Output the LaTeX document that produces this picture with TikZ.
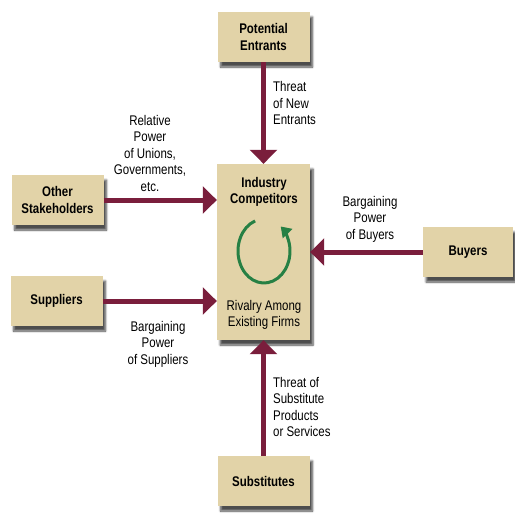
\documentclass[tikz,border=0pt]{standalone}
\usepackage{fontspec}
\setmainfont{Liberation Sans}[FakeStretch=0.82]
\usetikzlibrary{arrows.meta,shadows.blur}
\definecolor{boxtan}{RGB}{226,211,168}
\definecolor{forcered}{RGB}{122,30,60}
\definecolor{cyclegreen}{RGB}{38,128,68}

\begin{document}
\begin{tikzpicture}[x=1pt,y=-1pt,
  force node/.style={fill=boxtan,font=\fontsize{14}{16.5}\selectfont\bfseries,align=center,
    minimum width=92pt,minimum height=50pt,inner sep=0pt,
    blur shadow={shadow xshift=3pt,shadow yshift=-5pt,shadow blur steps=6,shadow opacity=70}},
  note node/.style={font=\fontsize{14}{16.5}\selectfont,inner sep=0pt},
  force/.style={draw=forcered,line width=5pt,-{Triangle[width=27pt,length=14pt]}}]

  \useasboundingbox (0,0) rectangle (515,514);

  \node[force node,minimum width=93pt,minimum height=176pt] (comp) at (263.5,252) {};
  \node[force node] (pe) at (263.5,37) {Potential\\Entrants};
  \node[force node] (os) at (57.5,200) {Other\\Stakeholders};
  \node[force node] (sup) at (56.5,301) {Suppliers};
  \node[force node,minimum width=90pt] (buy) at (468,252) {Buyers};
  \node[force node] (sub) at (263.5,481) {Substitutes};

  \node[note node,font=\fontsize{14}{16.5}\selectfont\bfseries,align=center] (comptitle) at (264,192) {Industry\\Competitors};
  \node[note node,align=center] (rivalry) at (264,315) {Rivalry Among\\Existing Firms};

  \node[note node,align=left,anchor=west] (newlbl) at (273,103) {Threat\\of New\\Entrants};
  \node[note node,align=center] (oslbl) at (150,153) {Relative\\Power\\of Unions,\\Governments,\\etc.};
  \node[note node,align=center] (buylbl) at (370,219) {Bargaining\\Power\\of Buyers};
  \node[note node,align=center] (suplbl) at (158,344) {Bargaining\\Power\\of Suppliers};
  \node[note node,align=left,anchor=west] (sublbl) at (273,407) {Threat of\\Substitute\\Products\\or Services};

  \path[every edge/.append style={force}]
   (pe) edge (comp)
   (os.east) edge (os.east -| comp.west)
   (sup.east) edge (sup.east -| comp.west)
   (buy.west) edge (buy.west -| comp.east)
   (sub) edge (comp);

  % rivalry cycle
  \draw[cyclegreen,line width=3pt,-{Triangle[width=13pt,length=10pt]}]
   (264,251) ++(250:26 and 32) arc[start angle=250,end angle=-50,x radius=26,y radius=32];
\end{tikzpicture}
\end{document}
